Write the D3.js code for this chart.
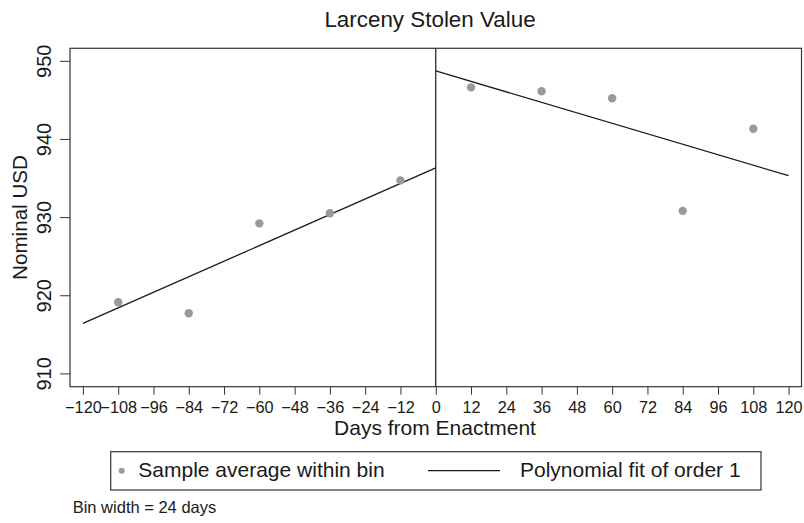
<!DOCTYPE html>
<html>
<head>
<meta charset="utf-8">
<script src="https://cdn.jsdelivr.net/npm/d3@7"></script>
<style>
  html, body { margin: 0; padding: 0; background: #fff; }
  svg { display: block; font-family: "Liberation Sans", Arial, Helvetica, sans-serif; }
</style>
</head>
<body>
<svg id="chart" width="804" height="523"></svg>
<script>
// ---- data ----
const binDays = [-108, -84, -60, -36, -12, 12, 36, 60, 84, 108];
const binMeans = [919.1, 917.7, 929.2, 930.5, 934.7, 946.6, 946.1, 945.2, 930.8, 941.3];
const fitLeftDays = [-120, 0];
const fitLeftValues = [916.4, 936.3];
const fitRightDays = [0, 120];
const fitRightValues = [948.7, 935.3];
const xTickValues = [-120, -108, -96, -84, -72, -60, -48, -36, -24, -12, 0, 12, 24, 36, 48, 60, 72, 84, 96, 108, 120];
const yTickValues = [910, 920, 930, 940, 950];
const xDomain = [-124.4, 124.4];
const yDomain = [908.3, 951.6];

const titleText = "Larceny Stolen Value";
const xTitle = "Days from Enactment";
const yTitle = "Nominal USD";
const legendLabels = ["Sample average within bin", "Polynomial fit of order 1"];
const noteText = "Bin width = 24 days";

// ---- layout ----
const plot = { left: 70, right: 801.5, top: 48.3, bottom: 386.7 };
const svg = d3.select("#chart");

const x = d3.scaleLinear().domain(xDomain).range([plot.left, plot.right]);
const y = d3.scaleLinear().domain(yDomain).range([plot.bottom, plot.top]);

const ink = "#1a1a1a";
const frameCol = "#333";
const dotCol = "#999a9e";

// title
svg.append("text")
  .attr("x", 430).attr("y", 26.7)
  .attr("text-anchor", "middle")
  .attr("font-size", 22.4).attr("fill", ink)
  .text(titleText);

// x axis
const xAxis = d3.axisBottom(x).tickValues(xTickValues).tickSize(8).tickPadding(7)
  .tickFormat(d3.format("d"));
const gx = svg.append("g").attr("transform", `translate(0,${plot.bottom})`).call(xAxis);
gx.select(".domain").remove();
gx.selectAll(".tick line").attr("stroke", frameCol).attr("stroke-width", 1);
gx.selectAll(".tick text").attr("font-size", 16.3).attr("fill", ink).attr("font-family", null);

// y axis
const yAxis = d3.axisLeft(y).tickValues(yTickValues).tickSize(10).tickFormat(d3.format("d"));
const gy = svg.append("g").attr("transform", `translate(${plot.left},0)`).call(yAxis);
gy.select(".domain").remove();
gy.selectAll(".tick line").attr("stroke", frameCol).attr("stroke-width", 1);
gy.selectAll(".tick text")
  .attr("font-size", 20).attr("fill", ink).attr("font-family", null)
  .attr("text-anchor", "middle")
  .attr("transform", "rotate(-90)")
  .attr("x", 0).attr("y", -19.3).attr("dy", null);

// axis titles
svg.append("text")
  .attr("x", 435).attr("y", 435)
  .attr("text-anchor", "middle")
  .attr("font-size", 21).attr("fill", ink)
  .text(xTitle);
svg.append("text")
  .attr("transform", `translate(27,${(plot.top + plot.bottom) / 2}) rotate(-90)`)
  .attr("text-anchor", "middle")
  .attr("font-size", 20.6).attr("fill", ink)
  .text(yTitle);

// cutoff line
svg.append("line")
  .attr("x1", x(0)).attr("x2", x(0))
  .attr("y1", plot.top).attr("y2", plot.bottom)
  .attr("stroke", ink).attr("stroke-width", 1.2);

// fit lines
const line = d3.line().x(d => x(d[0])).y(d => y(d[1]));
[[fitLeftDays, fitLeftValues], [fitRightDays, fitRightValues]].forEach(([dx, dv]) => {
  svg.append("path")
    .datum(dx.map((d, i) => [d, dv[i]]))
    .attr("d", line)
    .attr("fill", "none").attr("stroke", ink).attr("stroke-width", 1.3);
});

// points
svg.append("g").selectAll("circle")
  .data(binDays.map((d, i) => [d, binMeans[i]]))
  .join("circle")
  .attr("cx", d => x(d[0])).attr("cy", d => y(d[1]))
  .attr("r", 4.2).attr("fill", dotCol);

// frame
svg.append("rect")
  .attr("x", plot.left).attr("y", plot.top)
  .attr("width", plot.right - plot.left).attr("height", plot.bottom - plot.top)
  .attr("fill", "none").attr("stroke", frameCol).attr("stroke-width", 1.2);

// legend
const lg = svg.append("g");
lg.append("rect")
  .attr("x", 110.7).attr("y", 451.7).attr("width", 650.3).attr("height", 38.3)
  .attr("fill", "#fff").attr("stroke", frameCol).attr("stroke-width", 1.2);
lg.append("circle").attr("cx", 121.7).attr("cy", 470.7).attr("r", 3).attr("fill", dotCol);
lg.append("text").attr("x", 138.3).attr("y", 477.3)
  .attr("font-size", 21).attr("fill", ink).text(legendLabels[0]);
lg.append("line").attr("x1", 428).attr("x2", 500).attr("y1", 470.7).attr("y2", 470.7)
  .attr("stroke", ink).attr("stroke-width", 1.3);
lg.append("text").attr("x", 520).attr("y", 477.3)
  .attr("font-size", 21).attr("fill", ink).text(legendLabels[1]);

// note
svg.append("text").attr("x", 72.7).attr("y", 513.3)
  .attr("font-size", 16.5).attr("fill", ink).text(noteText);
</script>
</body>
</html>
